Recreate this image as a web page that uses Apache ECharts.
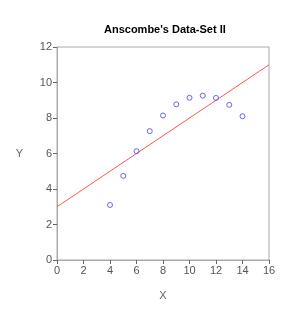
<!DOCTYPE html>
<html><head><meta charset="utf-8">
<script src="https://cdn.jsdelivr.net/npm/echarts@6/dist/echarts.min.js"></script>
<style>html,body{margin:0;padding:0;background:#fff}#c{width:290px;height:320px}</style>
</head><body><div id="c"></div>
<script>
var xValues = [10, 8, 13, 9, 11, 14, 6, 4, 12, 7, 5];
var yValues = [9.14, 8.14, 8.74, 8.77, 9.26, 8.10, 6.13, 3.10, 9.13, 7.26, 4.74];
var fitLine = [[0, 3], [16, 11]];
var xTicks = [0, 2, 4, 6, 8, 10, 12, 14, 16];
var yTicks = [0, 2, 4, 6, 8, 10, 12];

var pts = xValues.map(function (x, i) { return [x, yValues[i]]; });
var chart = echarts.init(document.getElementById('c'), null, {renderer: 'canvas'});
var font = 'Liberation Sans, Arial, sans-serif';
var axisCommon = {
  axisLine: {show: true, onZero: false, lineStyle: {color: '#aaa', width: 1}},
  axisTick: {show: true, length: 4, lineStyle: {color: '#666'}},
  axisLabel: {color: '#555', fontSize: 11, fontFamily: font, margin: 5},
  splitLine: {show: false},
  nameTextStyle: {color: '#666', fontSize: 11, fontFamily: font}
};
chart.setOption({
  animation: false,
  title: {text: "Anscombe's Data-Set II", left: 99, top: 19,
    textStyle: {fontSize: 11, fontWeight: 'bold', color: '#000', fontFamily: font}},
  grid: {left: 57, right: 21, top: 47, bottom: 60, show: true, borderColor: '#aaa', borderWidth: 1},
  xAxis: Object.assign({}, axisCommon, {type: 'value', min: xTicks[0], max: xTicks[xTicks.length - 1], interval: 2,
    name: 'X', nameLocation: 'middle', nameGap: 30}),
  yAxis: Object.assign({}, axisCommon, {type: 'value', min: yTicks[0], max: yTicks[yTicks.length - 1], interval: 2,
    name: 'Y', nameLocation: 'middle', nameGap: 34, nameRotate: 0}),
  series: [
    {type: 'line', data: fitLine, symbol: 'none', lineStyle: {color: '#ff5555', width: 1}, z: 2},
    {type: 'scatter', data: pts, symbol: 'circle', symbolSize: 5,
      itemStyle: {color: 'rgba(0,0,0,0)', borderColor: '#4444ee', borderWidth: 1}, z: 3}
  ]
});
</script></body></html>
